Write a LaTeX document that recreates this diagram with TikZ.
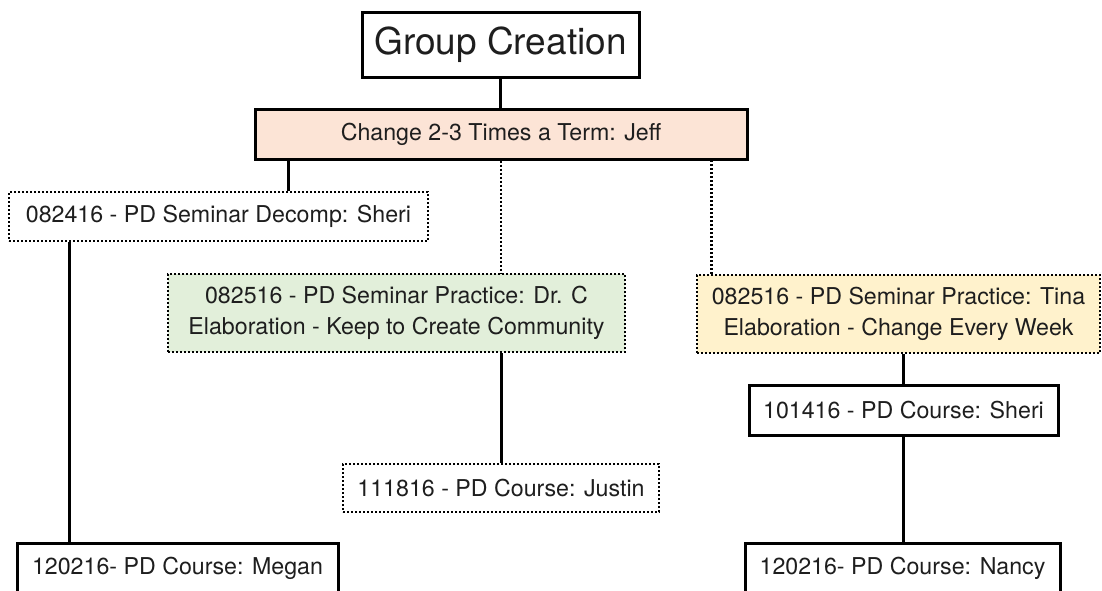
\documentclass[tikz,border=0pt]{standalone}
\usepackage{fontspec}
\setmainfont{TeX Gyre Heros}
\begin{document}
\begin{tikzpicture}[x=1pt,y=-1pt]
  \definecolor{inktext}{HTML}{1E1E1E}
  \definecolor{peach}{HTML}{FCE4D6}
  \definecolor{sage}{HTML}{E2EFDA}
  \definecolor{cream}{HTML}{FFF2CC}
  \tikzset{
    base/.style={rectangle, inner sep=0pt, align=center, text=inktext,
                 font=\fontsize{23.2}{31}\selectfont},
    solidbox/.style={base, draw=black, line width=3pt},
    dotbox/.style={base, draw=black, line width=2.6pt, dash pattern=on 2pt off 2pt},
    link/.style={draw=black, line width=3pt},
    dotlink/.style={draw=black, line width=2.6pt, dash pattern=on 2pt off 2pt},
  }
  % canvas, cropped so the lowest boxes run off the bottom edge
  \path[use as bounding box] (0,0) rectangle (1102,590);
  \fill[white] (0,0) rectangle (1102,590);
  \clip (0,0) rectangle (1102,590);

  % boxes
  \node[solidbox, minimum width=277, minimum height=65,
        font=\fontsize{37}{44}\selectfont] (group) at (500.5,44.5) {Group Creation};
  \node[solidbox, fill=peach, minimum width=492, minimum height=50] (term) at (501,134)
        {Change 2-3 Times a Term: Jeff};
  \node[dotbox, minimum width=419, minimum height=49] (decomp) at (218.5,216.5)
        {082416 - PD Seminar Decomp: Sheri};
  \node[dotbox, fill=sage, minimum width=457, minimum height=78] (drc) at (396.5,313)
        {082516 - PD Seminar Practice: Dr. C\\Elaboration - Keep to Create Community};
  \node[dotbox, fill=cream, minimum width=403, minimum height=78] (tina) at (898.5,314)
        {082516 - PD Seminar Practice: Tina\\Elaboration - Change Every Week};
  \node[dotbox, minimum width=316, minimum height=48] (justin) at (501,488)
        {111816 - PD Course: Justin};
  \node[solidbox, minimum width=309, minimum height=50] (sheri) at (903.5,410)
        {101416 - PD Course: Sheri};
  \node[solidbox, minimum width=321, minimum height=50] (megan) at (177.5,568)
        {120216- PD Course: Megan};
  \node[solidbox, minimum width=315, minimum height=50] (nancy) at (902.5,568)
        {120216- PD Course: Nancy};

  % connectors
  \draw[link] (group.south) -- (group.south |- term.north);
  \draw[link] ([xshift=69.5pt]decomp.north) -- ([xshift=69.5pt]decomp.north |- term.south);
  \draw[dotlink] (term.south) -- (term.south |- drc.north);
  \draw[dotlink] ([xshift=16pt]tina.north west) -- ([xshift=16pt]tina.north west |- term.south);
  \draw[link] (justin.north) -- (justin.north |- drc.south);
  \draw[link] (sheri.north) -- (sheri.north |- tina.south);
  \draw[link] (sheri.south) -- (sheri.south |- nancy.north);
  \draw[link] ([xshift=62pt]decomp.south west) -- ([xshift=62pt]decomp.south west |- megan.north);
\end{tikzpicture}
\end{document}
